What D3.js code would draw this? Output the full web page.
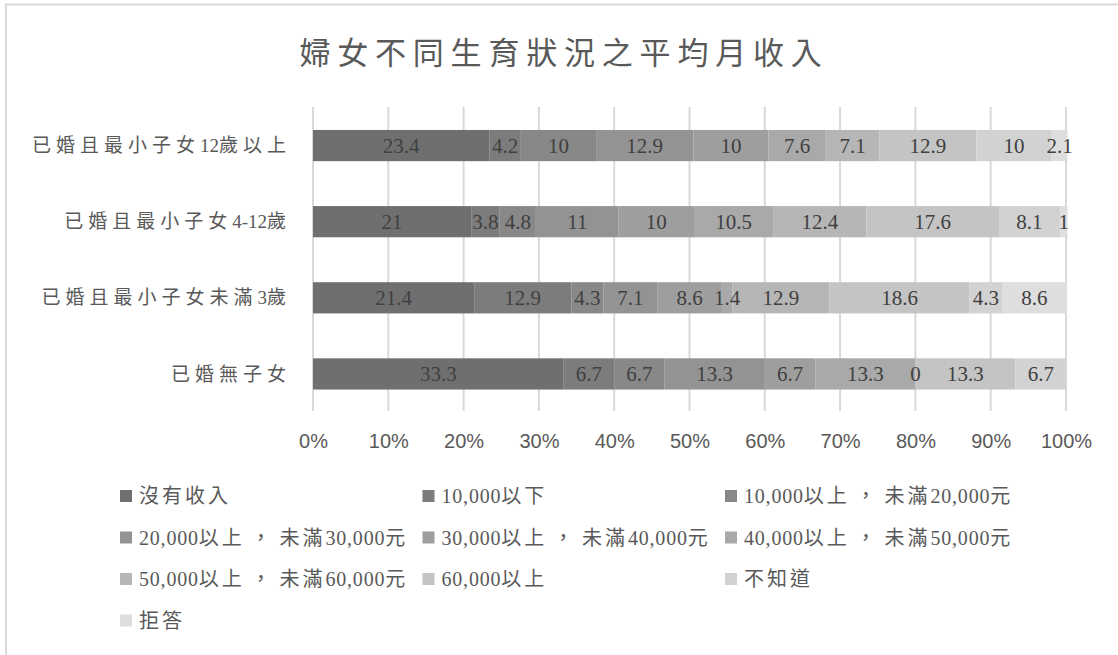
<!DOCTYPE html>
<html><head><meta charset="utf-8">
<script src="https://cdn.jsdelivr.net/npm/d3@7"></script>
<style>
html,body{margin:0;padding:0;background:#fff;}
svg{display:block;}
</style></head>
<body>
<svg id="chart" width="1118" height="655"></svg>
<script>
const title = "婦女不同生育狀況之平均月收入";
const categories = ["已婚且最小子女12歲以上","已婚且最小子女4-12歲","已婚且最小子女未滿3歲","已婚無子女"];
const seriesNames = ["沒有收入","10,000以下","10,000以上 ， 未滿20,000元","20,000以上 ， 未滿30,000元","30,000以上 ， 未滿40,000元","40,000以上 ， 未滿50,000元","50,000以上 ， 未滿60,000元","60,000以上","不知道","拒答"];
const row12plus = [23.4,4.2,10,12.9,10,7.6,7.1,12.9,10,2.1];
const row4to12 = [21,3.8,4.8,11,10,10.5,12.4,17.6,8.1,1];
const rowUnder3 = [21.4,12.9,4.3,7.1,8.6,1.4,12.9,18.6,4.3,8.6];
const rowNoChild = [33.3,6.7,6.7,13.3,6.7,13.3,0,13.3,6.7,null];
const tickValues = [0,10,20,30,40,50,60,70,80,90,100];
const colors = ["#6f6f6f","#7c7c7c","#888888","#939393","#9e9e9e","#a9a9a9","#b6b6b6","#c4c4c4","#d2d2d2","#dedede"];

const rows = [row12plus,row4to12,rowUnder3,rowNoChild];
const svg = d3.select("#chart");
const serif = "'Liberation Serif','Times New Roman','Noto Sans CJK TC',serif";

// split text into CJK / non-CJK runs so letter spacing only widens CJK glyphs
function runs(str){
  const out=[]; let cur="", curCjk=null;
  for(const ch of str){
    const c = /[\u3000-\u9fff\uff00-\uffef]/.test(ch);
    if(curCjk===null||c===curCjk){cur+=ch;curCjk=c;}
    else {out.push({t:cur,cjk:curCjk});cur=ch;curCjk=c;}
  }
  if(cur) out.push({t:cur,cjk:curCjk});
  return out;
}

// chart frame
svg.append("path").attr("d","M6,1000 L6,4.5 L1200,4.5").attr("fill","none").attr("stroke","#d9d9d9").attr("stroke-width",2);

svg.append("text").attr("x",564).attr("y",57).attr("text-anchor","middle")
  .attr("dominant-baseline","middle")
  .style("font-family",serif).style("font-size","31px").style("letter-spacing","6.8px")
  .attr("fill","#595959").text(title);

const x = d3.scaleLinear().domain([0,100]).range([313,1066]);
const y = d3.scaleBand().domain(categories).range([107.5,412]).paddingInner(0.59).paddingOuter(0.295);

// grid
svg.append("g").selectAll("line").data(tickValues).join("line")
  .attr("x1",d=>x(d)).attr("x2",d=>x(d)).attr("y1",107).attr("y2",411)
  .attr("stroke","#d9d9d9").attr("stroke-width",2);

// x axis labels
const xAxis = d3.axisBottom(x).tickValues(tickValues).tickFormat(d=>d+"%").tickSize(0).tickPadding(0);
const gx = svg.append("g").attr("transform","translate(0,441)").call(xAxis);
gx.select(".domain").remove();
gx.selectAll("text").attr("dy","0.35em").attr("y",0)
  .style("font-family","'Liberation Sans Narrow','Liberation Sans',sans-serif").style("font-size","20px").attr("fill","#595959");

// y axis labels
const yAxis = d3.axisLeft(y).tickSize(0).tickPadding(0);
const gy = svg.append("g").attr("transform","translate(291,0)").call(yAxis);
gy.select(".domain").remove();
gy.selectAll("text").attr("dy","0.35em")
  .style("font-family",serif).style("font-size","19px").attr("fill","#595959")
  .each(function(d){
    const t=d3.select(this); t.text(null);
    runs(d).forEach(r=>{
      t.append("tspan").style("letter-spacing", r.cjk?"5px":"0px").text(r.t);
    });
  });

// stacked bars
const stacked = rows.map((vals,ri)=>{
  let cum=0;
  return vals.map((v,si)=>{
    const seg={cat:categories[ri],s:si,v:v,x0:cum,x1:cum+(v||0)};
    cum+= (v||0);
    return seg;
  });
}).flat();

svg.append("g").selectAll("rect").data(stacked.filter(d=>d.v!==null)).join("rect")
  .attr("x",d=>x(d.x0)).attr("width",d=>x(d.x1)-x(d.x0))
  .attr("y",d=>y(d.cat)).attr("height",y.bandwidth())
  .attr("fill",d=>colors[d.s]);

svg.append("g").selectAll("text").data(stacked.filter(d=>d.v!==null)).join("text")
  .attr("x",d=>x((d.x0+d.x1)/2)).attr("y",d=>y(d.cat)+y.bandwidth()/2)
  .attr("text-anchor","middle").attr("dy","0.35em")
  .style("font-family",serif).style("font-size","21px").attr("fill","#404040")
  .text(d=>d.v);

// legend
const lg = svg.append("g");
const items = lg.selectAll("g").data(seriesNames).join("g")
  .attr("transform",(d,i)=>`translate(${120+(i%3)*302.5},${496+Math.floor(i/3)*41.5})`);
items.append("rect").attr("x",0).attr("y",-6).attr("width",12).attr("height",12).attr("fill",(d,i)=>colors[i]);
items.append("text").attr("x",19).attr("y",0).attr("dy","0.35em")
  .style("font-family",serif).style("font-size","20px").attr("fill","#595959")
  .each(function(d){
    const t=d3.select(this);
    runs(d).forEach(r=>{
      t.append("tspan").style("letter-spacing", r.cjk?"3px":"0.8px").text(r.t);
    });
  });
</script>
</body></html>
